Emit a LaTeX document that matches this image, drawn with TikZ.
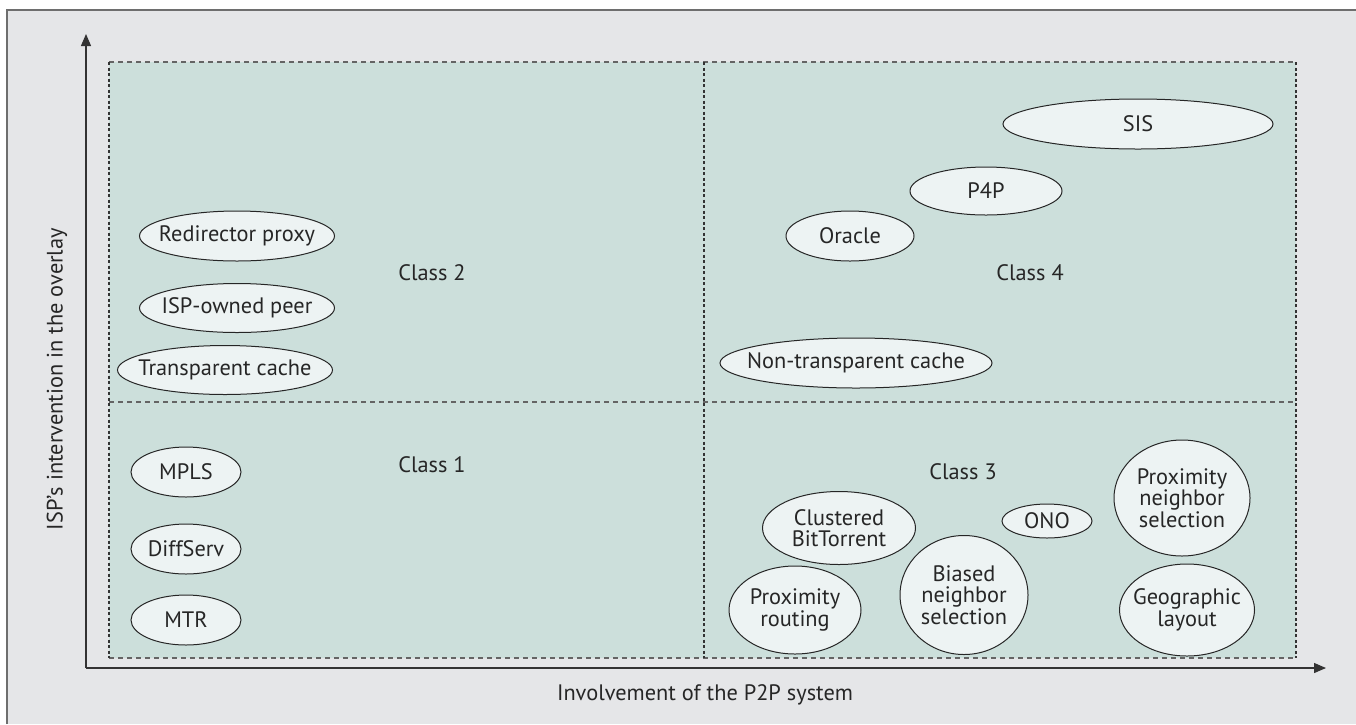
\documentclass[tikz,border=0pt]{standalone}
\usepackage{fontspec}
\setmainfont{PT Sans}
\usetikzlibrary{shapes.geometric,arrows.meta}
\definecolor{bggray}{RGB}{229,230,232}
\definecolor{zonegreen}{RGB}{204,223,219}
\definecolor{ellfill}{RGB}{237,243,243}
\definecolor{framegray}{RGB}{110,110,110}
\definecolor{dashgray}{RGB}{100,100,100}
\newlength\calibw
\settowidth\calibw{\fontsize{10}{12}\selectfont Involvement of the P2P system}
\pgfmathsetmacro\fsz{10*296/\calibw}
\newcommand\diagfont{\fontsize{\fsz}{21.5}\selectfont}
\tikzset{
  lbl/.style={font=\diagfont, text=black!85},
  ell/.style={ellipse, draw=black!85, line width=1pt, fill=ellfill,
              inner xsep=-60pt, inner ysep=-40pt,
              align=center, font=\diagfont, text=black!85},
  hdash/.style={draw=dashgray, line width=1.1pt, dash pattern=on 5pt off 4pt},
  vdash/.style={draw=black!80, line width=1.1pt, dash pattern=on 3pt off 2.5pt},
  axis/.style={draw=black!80, line width=1.2pt, -{Triangle[length=12pt,width=10pt]}},
}
\begin{document}
\begin{tikzpicture}[x=1pt,y=-1pt]
\useasboundingbox (0,0) rectangle (1356,724);
\fill[white] (0,0) rectangle (1356,724);
\fill[bggray] (7,10) rectangle (1356,724);
\draw[framegray, line width=1.5pt] (7,724) -- (7,10) -- (1356,10);
% zones
\fill[zonegreen] (109,62) rectangle (1296,658);
\coordinate (tl) at (109,62);
\coordinate (tr) at (1296,62);
\coordinate (bl) at (109,658);
\coordinate (br) at (1296,658);
\coordinate (mt) at (704,62);
\coordinate (mb) at (704,658);
\coordinate (ml) at (109,402);
\coordinate (mr) at (1296,402);
\draw[hdash] (tl) -- (tr);
\draw[hdash] (bl) -- (br);
\draw[hdash] (ml) -- (mr);
\draw[vdash] (tl) -- (bl);
\draw[vdash] (tr) -- (br);
\draw[vdash] (mt) -- (mb);
% axes
\coordinate (origin) at (86,668);
\coordinate (ytip) at (86,34);
\coordinate (xtip) at (1326,668);
\draw[axis] (origin) -- (ytip);
\draw[axis] (origin) -- (xtip);
\node[lbl] (xlabel) at (705,695) {Involvement of the P2P system};
\node[lbl, rotate=90] (ylabel) at (57,379) {ISP's intervention in the overlay};
% class labels
\node[lbl] (c2) at (432,273) {Class 2};
\node[lbl] (c4) at (1030,273) {Class 4};
\node[lbl] (c1) at (432,465) {Class 1};
\node[lbl] (c3) at (963,472) {Class 3};
% class 2
\node[ell, minimum width=195pt, minimum height=50pt] (redir) at (237,236) {Redirector proxy};
\node[ell, minimum width=195pt, minimum height=49pt] (isp) at (237,308) {ISP-owned peer};
\node[ell, minimum width=215pt, minimum height=49pt] (trans) at (225,370) {Transparent cache};
% class 1
\node[ell, minimum width=110pt, minimum height=50pt] (mpls) at (186,472) {MPLS};
\node[ell, minimum width=110pt, minimum height=50pt] (diff) at (186,549) {DiffServ};
\node[ell, minimum width=110pt, minimum height=50pt] (mtr) at (186,620) {MTR};
% class 4
\node[ell, minimum width=270pt, minimum height=50pt] (sis) at (1138,124) {SIS};
\node[ell, minimum width=152pt, minimum height=48pt] (p4p) at (986,191) {P4P};
\node[ell, minimum width=128pt, minimum height=50pt] (oracle) at (850,236) {Oracle};
\node[ell, minimum width=272pt, minimum height=50pt] (nontrans) at (856,363) {Non-transparent cache};
% class 3
\node[ell, minimum width=153pt, minimum height=73pt] (clust) at (839,528) {Clustered\\BitTorrent};
\node[ell, minimum width=90pt, minimum height=34pt] (ono) at (1047,521) {ONO};
\node[ell, minimum width=136pt, minimum height=116pt] (pns) at (1182,498) {Proximity\\neighbor\\selection};
\node[ell, minimum width=132pt, minimum height=88pt] (proute) at (795,610) {Proximity\\routing};
\node[ell, minimum width=128pt, minimum height=119pt] (biased) at (964,595) {Biased\\neighbor\\selection};
\node[ell, minimum width=135pt, minimum height=92pt] (geo) at (1187,610) {Geographic\\layout};
\end{tikzpicture}
\end{document}
